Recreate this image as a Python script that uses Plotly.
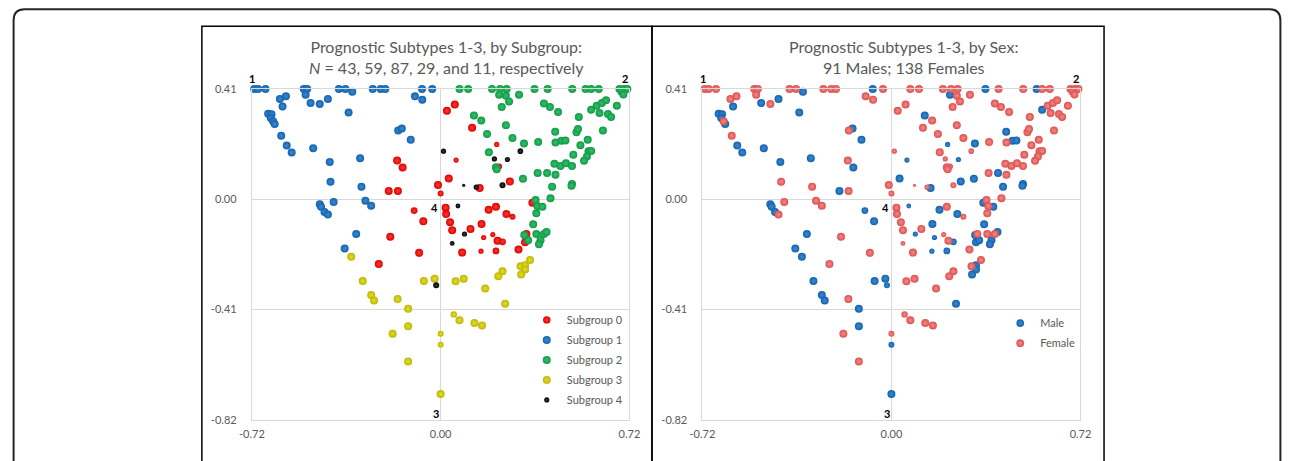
import plotly.graph_objects as go

# ---------------- data ----------------
# Each subgroup: x, y, sex (M/F), relative marker weight (bubble magnitude)
sg0_x = [-0.166, -0.145, -0.198, -0.163, -0.010, 0.000, -0.101, -0.066, -0.192, 0.024, 0.054, 0.120,
         0.214, 0.059, 0.031, 0.223, 0.149, 0.264, 0.019, 0.021, 0.183, 0.211, 0.251, 0.274, 0.036,
         0.044, 0.114, 0.156, 0.164, 0.199, 0.217, 0.236, 0.350, 0.327, 0.322, 0.297, -0.082, -0.236,
         0.082, 0.154, 0.211]
sg0_y = [0.144, 0.118, 0.031, 0.031, 0.053, 0.022, -0.042, -0.082, -0.139, 0.329, 0.352, 0.266,
         0.204, 0.146, 0.077, 0.122, 0.042, 0.066, -0.031, -0.055, -0.039, -0.028, -0.055, -0.065, -0.085,
         -0.115, -0.110, -0.092, -0.142, -0.131, -0.154, -0.158, -0.013, -0.129, -0.160, -0.187, -0.199, -0.241,
         -0.198, -0.193, -0.192]
sg0_sex = ["F", "M", "M", "F", "F", "F", "M", "M", "F", "F", "F", "F",
           "M", "M", "M", "F", "M", "M", "F", "F", "M", "F", "M", "F", "F",
           "F", "F", "M", "M", "F", "F", "M", "M", "F", "M", "F", "F", "F",
           "F", "M", "M"]
sg0_w = [1, 1, 1, 1, 1, 0.75, 0.85, 1, 1, 1, 1, 1,
         0.65, 0.65, 1, 0.75, 1, 1, 1, 1, 1, 1, 1, 0.75, 1,
         1, 1, 1, 0.65, 0.65, 1, 0.85, 1, 1, 1, 1, 1, 1,
         1, 0.65, 0.85]

sg1_x = [-0.711, -0.696, -0.668, -0.522, -0.509, -0.388, -0.363, -0.337, -0.259, -0.229, -0.211, -0.071, -0.032,
         -0.613, -0.590, -0.603, -0.515, -0.496, -0.461, -0.430, -0.351, -0.658, -0.645, -0.648, -0.639,
         -0.633, -0.608, -0.587, -0.568, -0.486, -0.162, -0.148, -0.114, -0.098, -0.070, -0.423, -0.307,
         -0.420, -0.302, -0.461, -0.456, -0.443, -0.430, -0.408, -0.287, -0.265, -0.322, -0.366]
sg1_y = [0.41, 0.41, 0.41, 0.41, 0.41, 0.41, 0.41, 0.40, 0.41, 0.41, 0.41, 0.41, 0.41,
         0.373, 0.383, 0.345, 0.389, 0.358, 0.354, 0.373, 0.323, 0.318, 0.316, 0.302, 0.290,
         0.280, 0.236, 0.200, 0.174, 0.190, 0.256, 0.263, 0.221, 0.383, 0.370, 0.139, 0.153,
         0.065, 0.047, -0.018, -0.028, -0.047, -0.057, -0.010, -0.005, -0.024, -0.129, -0.183]
sg1_sex = ["F", "F", "F", "F", "F", "F", "F", "M", "F", "F", "F", "M", "F",
           "F", "F", "M", "F", "M", "F", "M", "M", "M", "M", "M", "F",
           "M", "F", "M", "M", "M", "F", "M", "M", "F", "F", "M", "M",
           "F", "F", "M", "M", "M", "F", "F", "F", "F", "M", "M"]
sg1_w = [1] * len(sg1_x)

sg2_x = [0.072, 0.105, 0.196, 0.227, 0.252, 0.358, 0.408, 0.502, 0.553, 0.574, 0.603, 0.682, 0.699, 0.712,
         0.690, 0.697,
         0.223, 0.249, 0.261, 0.233, 0.299, 0.394, 0.417, 0.448, 0.527, 0.574, 0.595, 0.615, 0.631, 0.672,
         0.606, 0.638, 0.650,
         0.127, 0.155, 0.249, 0.177, 0.274, 0.318, 0.372, 0.437, 0.518, 0.524, 0.619,
         0.438, 0.461, 0.476, 0.533, 0.561,
         0.184, 0.211, 0.214, 0.506, 0.564, 0.574, 0.558, 0.547,
         0.434, 0.457, 0.478, 0.501,
         0.370, 0.406, 0.438, 0.314, 0.425, 0.501, 0.499,
         0.419, 0.362, 0.369, 0.388, 0.365, 0.353, 0.319, 0.365, 0.394, 0.404, 0.334, 0.381, 0.375]
sg2_y = [0.41, 0.41, 0.41, 0.41, 0.41, 0.41, 0.41, 0.41, 0.41, 0.41, 0.41, 0.41, 0.41, 0.41,
         0.40, 0.39,
         0.389, 0.385, 0.364, 0.343, 0.389, 0.356, 0.343, 0.325, 0.306, 0.333, 0.348, 0.358, 0.368, 0.348,
         0.321, 0.317, 0.306,
         0.312, 0.293, 0.275, 0.243, 0.228, 0.207, 0.213, 0.251, 0.249, 0.261, 0.256,
         0.211, 0.218, 0.219, 0.201, 0.221,
         0.175, 0.119, 0.112, 0.166, 0.179, 0.180, 0.159, 0.143,
         0.132, 0.124, 0.134, 0.124,
         0.098, 0.098, 0.091, 0.076, 0.047, 0.057, 0.050,
         0.004, -0.003, -0.025, -0.028, -0.052, -0.093, -0.133, -0.129, -0.129, -0.122, -0.152, -0.152, -0.167]
sg2_sex = ["F", "F", "F", "F", "F", "M", "F", "F", "M", "F", "F", "F", "F", "F",
           "F", "F",
           "M", "F", "F", "F", "F", "F", "F", "F", "F", "M", "F", "F", "F", "F",
           "F", "F", "F",
           "M", "F", "F", "F", "F", "M", "F", "M", "F", "F", "F",
           "F", "M", "M", "F", "F",
           "F", "F", "F", "F", "F", "F", "F", "F",
           "F", "F", "F", "F",
           "F", "M", "F", "M", "M", "M", "M",
           "F", "F", "F", "M", "F", "M", "M", "F", "F", "M", "M", "M", "M"]
sg2_w = [1] * len(sg2_x)

sg3_x = [-0.341, -0.297, -0.265, -0.254, -0.164, -0.124, -0.124, -0.183, -0.124, -0.064, -0.023,
         0.000, 0.000, 0.000, 0.057, 0.088, 0.170, 0.050, 0.072, 0.129, 0.158, 0.220, 0.236, 0.246,
         0.305, 0.322, 0.322, 0.307, 0.341]
sg3_y = [-0.214, -0.304, -0.356, -0.376, -0.371, -0.407, -0.472, -0.500, -0.603, -0.304, -0.295,
         -0.500, -0.541, -0.724, -0.305, -0.295, -0.332, -0.428, -0.450, -0.460, -0.469, -0.286, -0.268, -0.388,
         -0.249, -0.245, -0.261, -0.280, -0.226]
sg3_sex = ["M", "M", "M", "M", "F", "M", "M", "F", "F", "M", "M",
           "F", "M", "M", "F", "F", "F", "F", "F", "F", "F", "F", "F", "M",
           "F", "M", "M", "M", "F"]
sg3_w = [1, 1, 1, 1, 1, 1, 1, 1, 1, 1, 1,
         0.75, 0.75, 1, 1, 1, 1, 0.8, 1, 1, 1, 1, 1, 1,
         1, 1, 1, 1, 1]

sg4_x = [0.011, 0.205, 0.255, 0.304, 0.088, 0.136, 0.236, 0.066, 0.091, 0.044, -0.017]
sg4_y = [0.179, 0.150, 0.148, 0.179, 0.052, 0.045, 0.052, -0.025, -0.129, -0.164, -0.320]
sg4_sex = ["F", "F", "M", "F", "F", "F", "F", "M", "M", "F", "M"]
sg4_w = [0.65, 0.65, 0.65, 0.7, 0.4, 0.65, 0.75, 0.6, 0.65, 0.6, 0.75]

subgroup_names = ["Subgroup 0", "Subgroup 1", "Subgroup 2", "Subgroup 3", "Subgroup 4"]
sex_names = ["Male", "Female"]
x_ticks = [-0.72, 0.00, 0.72]
y_ticks = [-0.82, -0.41, 0.00, 0.41]
vertex_labels = ["1", "2", "3", "4"]
vertex_x = [-0.72, 0.72, 0.00, 0.00]
vertex_y = [0.41, 0.41, -0.82, 0.00]
title_left = "Prognostic Subtypes 1-3, by Subgroup:<br><i>N</i> = 43, 59, 87, 29, and 11, respectively"
title_right = "Prognostic Subtypes 1-3, by Sex:<br>91 Males; 138 Females"

# ---------------- styling / layout ----------------
W, H = 1292, 461
# The photographed page area includes the body's 8 px margin on every side,
# so target picture pixels are mapped into figure paper coordinates here.
BODY_M = 8
SX, SY = (W + 2 * BODY_M) / W, (H + 2 * BODY_M) / H
def px(v): return (v * SX - BODY_M) / W
def py(v): return 1 - (v * SY - BODY_M) / H

FONT = "Lato, 'Open Sans', sans-serif"
GRAY = "#595959"
GRID = "#d9d9d9"
BASE = 8.0

sub_colors = ["#dc0000", "#1262ad", "#0f9a46", "#bdb600", "#000000"]
sub_light = ["#ff3b30", "#3d8ad2", "#38c06c", "#e6dd2a", "#3a3a3a"]
sex_colors = {"Male": ("#1262ad", "#3d8ad2"), "Female": ("#dc5050", "#f58a86")}

groups = [(sg0_x, sg0_y, sg0_sex, sg0_w), (sg1_x, sg1_y, sg1_sex, sg1_w), (sg2_x, sg2_y, sg2_sex, sg2_w),
          (sg3_x, sg3_y, sg3_sex, sg3_w), (sg4_x, sg4_y, sg4_sex, sg4_w)]

fig = go.Figure()
for i, (gx, gy, gs, gw) in enumerate(groups):
    fig.add_trace(go.Scatter(
        x=gx, y=gy, mode="markers", name=subgroup_names[i], xaxis="x", yaxis="y",
        legend="legend", legendgroup=subgroup_names[i], cliponaxis=False,
        marker=dict(size=[w * BASE for w in gw], color=sub_colors[i], opacity=1,
                    gradient=dict(type="radial", color=sub_light[i]), line=dict(width=0)),
        hoverinfo="x+y+name"))

all_x, all_y, all_s, all_w = [], [], [], []
for gx, gy, gs, gw in groups:
    all_x += gx; all_y += gy; all_s += gs; all_w += gw
for name in sex_names:
    code = name[0]
    idx = [k for k, s in enumerate(all_s) if s == code]
    c, lc = sex_colors[name]
    fig.add_trace(go.Scatter(
        x=[all_x[k] for k in idx], y=[all_y[k] for k in idx], mode="markers", name=name,
        xaxis="x2", yaxis="y2", legend="legend2", legendgroup=name, cliponaxis=False,
        marker=dict(size=[all_w[k] * BASE for k in idx], color=c, opacity=1,
                    gradient=dict(type="radial", color=lc), line=dict(width=0)),
        hoverinfo="x+y+name"))

tick_font = dict(family=FONT, size=11, color=GRAY)
def xax(domain):
    return dict(domain=domain, range=[-0.72, 0.72], tickvals=x_ticks,
                ticktext=[f"{v:.2f}" for v in x_ticks], showgrid=True, gridcolor=GRID, gridwidth=1,
                zeroline=False, showline=True, linecolor=GRID, linewidth=1, mirror=True,
                ticks="", tickfont=tick_font, ticklabelstandoff=4, fixedrange=True)
def yax(domain, anchor):
    return dict(domain=domain, range=[-0.82, 0.41], tickvals=y_ticks,
                ticktext=[f"{v:.2f}" for v in y_ticks], showgrid=True, gridcolor=GRID, gridwidth=1,
                zeroline=False, showline=True, linecolor=GRID, linewidth=1, mirror=True,
                ticks="", tickfont=tick_font, ticklabelstandoff=12, anchor=anchor, fixedrange=True)

ydom = [py(418.3), py(89.3)]
annotations = [
    dict(text=title_left, x=px(444), y=py(57.5), xref="paper", yref="paper", showarrow=False,
         xanchor="center", yanchor="middle", font=dict(family=FONT, size=16, color=GRAY)),
    dict(text=title_right, x=px(904), y=py(57.5), xref="paper", yref="paper", showarrow=False,
         xanchor="center", yanchor="middle", font=dict(family=FONT, size=16, color=GRAY)),
]
shifts = [(0.5, 10.5), (-4.5, 10.5), (-4.5, 6.5), (-6, -8)]
for ax_suffix in ["", "2"]:
    for lab, vx, vy, (sx, sy) in zip(vertex_labels, vertex_x, vertex_y, shifts):
        annotations.append(dict(text=f"<b>{lab}</b>", x=vx, y=vy, xref="x" + ax_suffix, yref="y" + ax_suffix,
                                xshift=sx, yshift=sy, showarrow=False,
                                font=dict(family=FONT, size=11, color="#000000")))

xl, xr, yt, yb, r = px(8.5), px(1283.5), py(10), py(480), 11
outer = (f"M {xl},{yb} L {xl},{py(10 + r)} Q {xl},{yt} {px(8.5 + r)},{yt} "
         f"L {px(1283.5 - r)},{yt} Q {xr},{yt} {xr},{py(10 + r)} L {xr},{yb}")
shapes = [
    dict(type="path", path=outer, xref="paper", yref="paper", line=dict(color="#262626", width=2), layer="above"),
    dict(type="rect", x0=px(198), x1=px(651), y0=py(480), y1=py(27), xref="paper", yref="paper",
         line=dict(color="#000000", width=1.5), layer="above"),
    dict(type="rect", x0=px(651), x1=px(1106), y0=py(480), y1=py(27), xref="paper", yref="paper",
         line=dict(color="#000000", width=1.5), layer="above"),
]

legend_common = dict(bgcolor="rgba(0,0,0,0)", borderwidth=0, font=dict(family=FONT, size=11, color=GRAY),
                     xanchor="left", yanchor="top", itemwidth=30, tracegroupgap=1, itemclick=False,
                     itemdoubleclick=False)

fig.update_layout(
    width=W, height=H, margin=dict(l=0, r=0, t=0, b=0), autosize=False,
    paper_bgcolor="#ffffff", plot_bgcolor="#ffffff",
    xaxis=xax([px(248.3), px(628.3)]), yaxis=yax(ydom, "x"),
    xaxis2=xax([px(701.7), px(1082.3)]), yaxis2=yax(ydom, "x2"),
    legend=dict(x=px(525), y=py(304.5), **legend_common),
    legend2=dict(x=px(1001.5), y=py(307.7), **legend_common),
    annotations=annotations, shapes=shapes, showlegend=True,
)

fig.write_html("out.html", config={"displayModeBar": False})
